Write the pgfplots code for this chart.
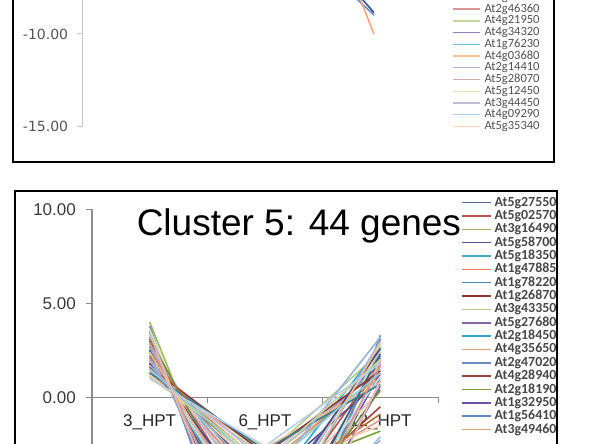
\documentclass[border=0pt]{standalone}
\usepackage{pgfplots}
\pgfplotsset{compat=1.18}
\usepackage{fontspec}
\setmainfont{Liberation Sans}
\newfontfamily\legfont{Carlito}
\newfontfamily\dvfont{DejaVu Sans}
% legend / series colours (Excel-like)
\definecolor{p1}{HTML}{4A6A9E}\definecolor{p2}{HTML}{C0504D}\definecolor{p3}{HTML}{9BBB59}
\definecolor{p4}{HTML}{5F4B8B}\definecolor{p5}{HTML}{4BACC6}\definecolor{p6}{HTML}{F07850}
\definecolor{p7}{HTML}{4F81BD}\definecolor{p8}{HTML}{943634}\definecolor{p9}{HTML}{B5C98E}
\definecolor{p10}{HTML}{8064A2}\definecolor{p11}{HTML}{31A9C8}\definecolor{p12}{HTML}{E3A57A}
\definecolor{p13}{HTML}{6C8EBF}\definecolor{p14}{HTML}{A0413D}\definecolor{p15}{HTML}{77A03A}
\definecolor{p16}{HTML}{7050A8}\definecolor{p17}{HTML}{5B8DC4}\definecolor{p18}{HTML}{D8A070}
\definecolor{p19}{HTML}{95B3D7}\definecolor{p20}{HTML}{D99694}\definecolor{p21}{HTML}{C3D69B}
\definecolor{p22}{HTML}{B3A2C7}\definecolor{p23}{HTML}{92CDDC}\definecolor{p24}{HTML}{FAC08F}
\definecolor{p25}{HTML}{B9CDE5}\definecolor{p26}{HTML}{E6B9B8}\definecolor{p27}{HTML}{D7E4BD}
\definecolor{p28}{HTML}{CCC1DA}\definecolor{p29}{HTML}{B7DEE8}\definecolor{p30}{HTML}{FCD5B5}
\definecolor{p31}{HTML}{385D8A}\definecolor{p32}{HTML}{8C3836}\definecolor{p33}{HTML}{71893F}
\definecolor{p34}{HTML}{5C4776}\definecolor{p35}{HTML}{357D91}\definecolor{p36}{HTML}{B66D31}
% top panel legend colours
\definecolor{q1}{HTML}{95B3D7}\definecolor{q2}{HTML}{D99694}\definecolor{q3}{HTML}{C3D69B}
\definecolor{q4}{HTML}{8E86B8}\definecolor{q5}{HTML}{6CC0D2}\definecolor{q6}{HTML}{FAC08F}
\definecolor{q7}{HTML}{A9B4DA}\definecolor{q8}{HTML}{D8AAAA}\definecolor{q9}{HTML}{D7E4BD}
\definecolor{q10}{HTML}{C4BDD8}\definecolor{q11}{HTML}{A8D8E8}\definecolor{q12}{HTML}{FCD5B5}
\definecolor{tblue}{HTML}{6A8FD0}\definecolor{tnavy}{HTML}{34509A}\definecolor{torange}{HTML}{F4A67C}
\definecolor{axgray}{HTML}{8C8C8C}
\definecolor{axlight}{HTML}{C8C8C8}
\definecolor{tklab}{HTML}{3A3A3A}
\definecolor{tklabtop}{HTML}{555555}

\begin{document}
\begin{tikzpicture}[x=1pt,y=1pt]
\useasboundingbox (0,0) rectangle (610,444);
\clip (0,0) rectangle (610,444);

% panel frames
\draw[line width=2pt] (12.7,470) -- (12.7,282.3) -- (554.3,282.3) -- (554.3,470);
\draw[line width=2pt] (15,-30) -- (15,253.3) -- (557.3,253.3) -- (557.3,-30);

% ================= top panel (bottom part only visible) =================
\begin{axis}[
  at={(82.3pt,317.3pt)}, anchor=south west,
  scale only axis, width=350pt, height=463.5pt,
  xmin=-0.5, xmax=2.5, ymin=-15, ymax=10,
  axis y line*=left, axis x line=none,
  y axis line style={draw=axlight, line width=1.5pt},
  xtick=\empty,
  ytick={-15,-10},
  tick align=outside, major tick length=5pt,
  ytick style={draw=axlight, line width=1pt},
  /pgf/number format/.cd, fixed, fixed zerofill, precision=2, assume math mode=true,
  /pgfplots/.cd,
  yticklabel style={font=\dvfont\fontsize{14}{14}\selectfont, text=tklabtop, inner sep=0pt, anchor=east, xshift=-9pt},
  legend style={at={(1.0563,-0.0119)}, anchor=south west, draw=none, fill=none,
    inner sep=0pt, row sep=0.74pt, column sep=4pt,
    font=\legfont\fontsize{12.5}{12.5}\selectfont, text=black!68,
    nodes={inner sep=0pt, text height=8.5pt, text depth=2.5pt}},
  legend cell align=left,
  legend image code/.code={\draw[#1] (0pt,0pt) -- (27pt,0pt);},
]
\addlegendimage{q1, line width=1.3pt}\addlegendentry{At1g24010}
\addlegendimage{q2, line width=1.3pt}\addlegendentry{At2g46360}
\addlegendimage{q3, line width=1.3pt}\addlegendentry{At4g21950}
\addlegendimage{q4, line width=1.3pt}\addlegendentry{At4g34320}
\addlegendimage{q5, line width=1.3pt}\addlegendentry{At1g76230}
\addlegendimage{q6, line width=1.3pt}\addlegendentry{At4g03680}
\addlegendimage{q7, line width=1.3pt}\addlegendentry{At2g14410}
\addlegendimage{q8, line width=1.3pt}\addlegendentry{At5g28070}
\addlegendimage{q9, line width=1.3pt}\addlegendentry{At5g12450}
\addlegendimage{q10, line width=1.3pt}\addlegendentry{At3g44450}
\addlegendimage{q11, line width=1.3pt}\addlegendentry{At4g09290}
\addlegendimage{q12, line width=1.3pt}\addlegendentry{At5g35340}
\addplot[forget plot, tblue, line width=1.6pt] coordinates {(0,1.5) (1,-3.1) (2,-8.98)};
\addplot[forget plot, tnavy, line width=1.6pt] coordinates {(0,1.2) (1,-1.6) (2,-8.85)};
\addplot[forget plot, torange, line width=1.6pt] coordinates {(0,2.0) (1,6.0) (2,-10.0)};
\end{axis}

% ================= bottom panel: Cluster 5 =================
\begin{axis}[
  at={(92pt,-141.3pt)}, anchor=south west,
  scale only axis, width=346pt, height=376pt,
  xmin=-0.5, xmax=2.5, ymin=-10, ymax=10,
  axis y line*=left, axis x line*=middle,
  y axis line style={draw=axgray, line width=1.2pt},
  x axis line style={draw=axgray, line width=1.2pt},
  xtick={0,1,2}, xticklabels={3\_HPT,6\_HPT,12\_HPT},
  extra x ticks={-0.5,0.5,1.5,2.5}, extra x tick labels={},
  extra x tick style={major x tick style={draw=axgray, line width=1pt}},
  ytick={0,5,10},
  tick align=outside, major tick length=6pt,
  ytick style={draw=axgray, line width=1pt},
  major x tick style={draw=none},
  /pgf/number format/.cd, fixed, fixed zerofill, precision=2, assume math mode=true,
  /pgfplots/.cd,
  yticklabel style={font=\fontsize{17}{17}\selectfont, text=tklab, inner sep=0pt, anchor=east, xshift=-10pt},
  xticklabel style={font=\fontsize{17}{17}\selectfont, text=black!85, inner sep=0pt, anchor=center, yshift=-19pt},
  title={Cluster 5: 44 genes},
  title style={at={(0.598,0.914)}, anchor=base, inner sep=0pt, font=\fontsize{37}{37}\selectfont},
  legend style={at={(1.0656,1.0343)}, anchor=north west, draw=none, fill=none,
    inner sep=0pt, row sep=1.35pt, column sep=3.3pt,
    font=\legfont\bfseries\fontsize{13.9}{13.9}\selectfont, text=black!72,
    nodes={inner sep=0pt, text height=9.5pt, text depth=2.5pt}},
  legend cell align=left,
  legend image code/.code={\draw[#1] (0pt,0pt) -- (29pt,0pt);},
]
\addlegendimage{p1, line width=1.5pt}\addlegendentry{At5g27550}
\addlegendimage{p2, line width=1.5pt}\addlegendentry{At5g02570}
\addlegendimage{p3, line width=1.5pt}\addlegendentry{At3g16490}
\addlegendimage{p4, line width=1.5pt}\addlegendentry{At5g58700}
\addlegendimage{p5, line width=1.5pt}\addlegendentry{At5g18350}
\addlegendimage{p6, line width=1.5pt}\addlegendentry{At1g47885}
\addlegendimage{p7, line width=1.5pt}\addlegendentry{At1g78220}
\addlegendimage{p8, line width=1.5pt}\addlegendentry{At1g26870}
\addlegendimage{p9, line width=1.5pt}\addlegendentry{At3g43350}
\addlegendimage{p10, line width=1.5pt}\addlegendentry{At5g27680}
\addlegendimage{p11, line width=1.5pt}\addlegendentry{At2g18450}
\addlegendimage{p12, line width=1.5pt}\addlegendentry{At4g35650}
\addlegendimage{p13, line width=1.5pt}\addlegendentry{At2g47020}
\addlegendimage{p14, line width=1.5pt}\addlegendentry{At4g28940}
\addlegendimage{p15, line width=1.5pt}\addlegendentry{At2g18190}
\addlegendimage{p16, line width=1.5pt}\addlegendentry{At1g32950}
\addlegendimage{p17, line width=1.5pt}\addlegendentry{At1g56410}
\addlegendimage{p18, line width=1.5pt}\addlegendentry{At3g49460}
\pgfplotsset{every axis plot/.append style={line width=1.6pt, line join=round, forget plot}}
\addplot[p1] coordinates {(0,3.2) (1,-9.5) (2,2.1)};
\addplot[p2] coordinates {(0,2.5) (1,-6.8) (2,1.8)};
\addplot[p3] coordinates {(0,4.0) (1,-11.2) (2,2.6)};
\addplot[p4] coordinates {(0,1.8) (1,-4.5) (2,0.9)};
\addplot[p5] coordinates {(0,2.2) (1,-7.9) (2,2.9)};
\addplot[p6] coordinates {(0,1.4) (1,-3.6) (2,1.2)};
\addplot[p7] coordinates {(0,3.5) (1,-12.5) (2,3.1)};
\addplot[p8] coordinates {(0,2.9) (1,-8.3) (2,1.9)};
\addplot[p9] coordinates {(0,1.1) (1,-3.1) (2,2.4)};
\addplot[p10] coordinates {(0,2.7) (1,-10.4) (2,0.6)};
\addplot[p11] coordinates {(0,1.9) (1,-5.2) (2,2.7)};
\addplot[p12] coordinates {(0,1.3) (1,-3.8) (2,1.6)};
\addplot[p13] coordinates {(0,3.8) (1,-13.6) (2,3.3)};
\addplot[p14] coordinates {(0,2.4) (1,-6.1) (2,-0.5)};
\addplot[p15] coordinates {(0,1.6) (1,-4.2) (2,-1.8)};
\addplot[p16] coordinates {(0,3.0) (1,-9.9) (2,1.3)};
\addplot[p17] coordinates {(0,2.1) (1,-5.8) (2,2.2)};
\addplot[p18] coordinates {(0,1.2) (1,-2.9) (2,1.0)};
\addplot[p19] coordinates {(0,2.6) (1,-7.2) (2,3.0)};
\addplot[p20] coordinates {(0,1.5) (1,-4.9) (2,-1.2)};
\addplot[p21] coordinates {(0,3.3) (1,-11.8) (2,2.0)};
\addplot[p22] coordinates {(0,1.7) (1,-3.4) (2,1.5)};
\addplot[p23] coordinates {(0,2.3) (1,-8.8) (2,-2.1)};
\addplot[p24] coordinates {(0,1.0) (1,-2.7) (2,0.8)};
\addplot[p25] coordinates {(0,2.8) (1,-6.5) (2,2.5)};
\addplot[p26] coordinates {(0,1.9) (1,-5.5) (2,0.3)};
\addplot[p27] coordinates {(0,3.6) (1,-10.8) (2,2.8)};
\addplot[p28] coordinates {(0,1.4) (1,-3.3) (2,1.9)};
\addplot[p29] coordinates {(0,2.0) (1,-7.5) (2,1.1)};
\addplot[p30] coordinates {(0,1.2) (1,-4.0) (2,-1.5)};
\addplot[p31] coordinates {(0,2.5) (1,-9.1) (2,2.3)};
\addplot[p32] coordinates {(0,1.6) (1,-3.0) (2,1.4)};
\addplot[p33] coordinates {(0,3.1) (1,-8.0) (2,0.4)};
\addplot[p34] coordinates {(0,1.8) (1,-6.3) (2,2.6)};
\addplot[p35] coordinates {(0,1.3) (1,-2.8) (2,0.7)};
\addplot[p36] coordinates {(0,2.2) (1,-5.0) (2,-0.9)};
\addplot[p19] coordinates {(0,1.7) (1,-4.6) (2,3.2)};
\addplot[p20] coordinates {(0,2.9) (1,-10.1) (2,1.7)};
\addplot[p21] coordinates {(0,1.1) (1,-3.5) (2,2.0)};
\addplot[p22] coordinates {(0,2.0) (1,-6.9) (2,-2.3)};
\addplot[p23] coordinates {(0,1.5) (1,-3.9) (2,1.3)};
\addplot[p24] coordinates {(0,2.4) (1,-7.7) (2,2.9)};
\addplot[p25] coordinates {(0,1.0) (1,-2.6) (2,1.8)};
\addplot[p26] coordinates {(0,3.4) (1,-12.0) (2,0.9)};
\end{axis}
\end{tikzpicture}
\end{document}
